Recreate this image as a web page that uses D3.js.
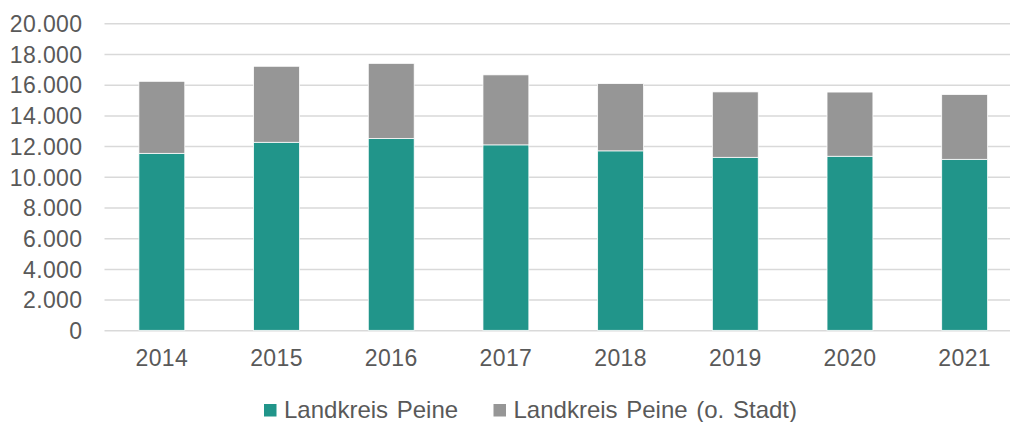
<!DOCTYPE html>
<html>
<head>
<meta charset="utf-8">
<script src="https://cdn.jsdelivr.net/npm/d3@7"></script>
<style>
  body { margin: 0; background: #fff; }
  svg { display: block; font-family: 'Liberation Sans', Arial, sans-serif; }
</style>
</head>
<body>
<script>
const years = ['2014', '2015', '2016', '2017', '2018', '2019', '2020', '2021']
const landkreis = [11530, 12250, 12490, 12080, 11690, 11270, 11340, 11140]
const ohneStadt = [4690, 4950, 4900, 4560, 4380, 4260, 4180, 4220]
const yTicks = [0, 2000, 4000, 6000, 8000, 10000, 12000, 14000, 16000, 18000, 20000]
const seriesNames = ['Landkreis Peine', 'Landkreis Peine (o. Stadt)']
const colors = ['#21958a', '#969696']

const W = 1010
const H = 422
const margin = { left: 104.5, top: 23.3, bottom: 91.7 }

const svg = d3.select('body').append('svg')
  .attr('width', W)
  .attr('height', H)

const x = d3.scaleBand().domain(years).range([margin.left, 1022]).paddingInner(0.6).paddingOuter(0.3)
const y = d3.scaleLinear().domain([0, 20000]).range([H - margin.bottom, margin.top])

const fmt = d3.formatLocale({ decimal: ',', thousands: '.', grouping: [3], currency: ['', '€'] }).format(',d')

// gridlines + y labels
const yAxis = g => g
  .attr('transform', `translate(${margin.left},0)`)
  .call(d3.axisLeft(y).tickValues(yTicks).tickFormat(fmt).tickSize(-(W - margin.left)).tickPadding(22))
  .call(g => g.select('.domain').remove())
  .call(g => g.selectAll('.tick line').attr('stroke', '#d9d9d9').attr('stroke-width', 1.5))
  .call(g => g.selectAll('.tick text')
    .attr('fill', '#595959')
    .attr('font-size', 23)
    .attr('letter-spacing', 0.4)
    .attr('dy', '0.36em'))

svg.append('g').call(yAxis)

const rows = years.map((yr, i) => ({ year: yr, a: landkreis[i], b: ohneStadt[i] }))
const stack = d3.stack().keys(['a', 'b'])(rows)

svg.append('g')
  .selectAll('g')
  .data(stack)
  .join('g')
  .attr('fill', (d, i) => colors[i])
  .selectAll('rect')
  .data(d => d)
  .join('rect')
  .attr('x', d => x(d.data.year))
  .attr('width', x.bandwidth())
  .attr('y', d => y(d[1]))
  .attr('height', d => y(d[0]) - y(d[1]))
  .attr('stroke', '#fff')
  .attr('stroke-width', 0.75)

// x labels
const xAxis = g => g
  .attr('transform', `translate(0,${H - margin.bottom})`)
  .call(d3.axisBottom(x).tickSize(0).tickPadding(19.5))
  .call(g => g.select('.domain').remove())
  .call(g => g.selectAll('.tick text')
    .attr('fill', '#595959')
    .attr('font-size', 23)
    .attr('letter-spacing', 0.4))

svg.append('g').call(xAxis)

// legend
const legendX = [264, 493.5]
const legend = svg.append('g')
  .selectAll('g')
  .data(seriesNames)
  .join('g')
  .attr('transform', (d, i) => `translate(${legendX[i]},404)`)

legend.append('rect')
  .attr('width', 12.5)
  .attr('height', 12.5)
  .attr('fill', (d, i) => colors[i])

legend.append('text')
  .attr('x', 20)
  .attr('y', 13.5)
  .attr('fill', '#595959')
  .attr('font-size', 24)
  .attr('word-spacing', 2)
  .text(d => d)
</script>
</body>
</html>
